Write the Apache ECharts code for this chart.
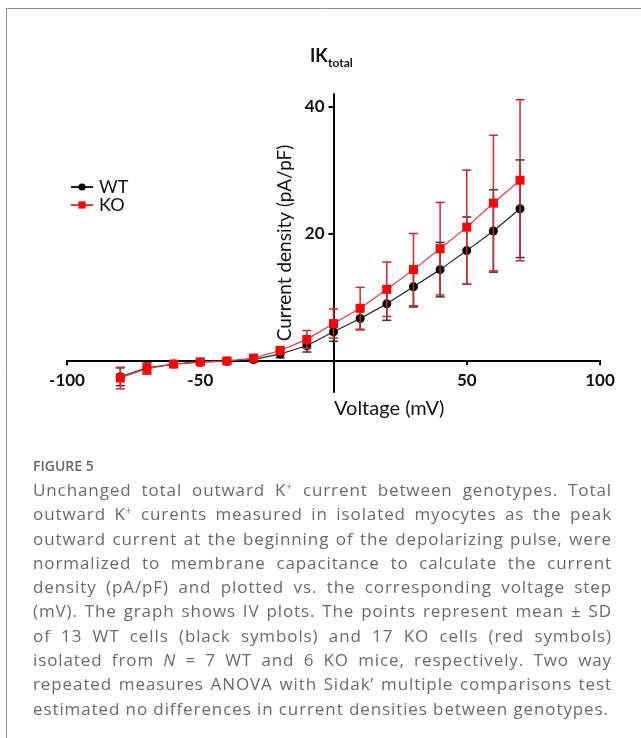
<!DOCTYPE html>
<html>
<head>
<meta charset="utf-8">
<script src="https://cdn.jsdelivr.net/npm/echarts@6/dist/echarts.min.js"></script>
<style>
  html, body { margin: 0; padding: 0; background: #fff; }
  #wrap { position: relative; width: 641px; height: 738px; overflow: hidden; }
  #chart { position: absolute; left: 0; top: 0; width: 641px; height: 738px; }
  #caption {
    position: absolute; left: 33px; top: 454px; width: 579px;
    font-family: "Open Sans", sans-serif; color: #6a6a6a; font-size: 17px; letter-spacing: 0.9px;
  }
  #caption .fig { font-size: 14px; font-weight: 600; color: #666; height: 24px; line-height: 24px; letter-spacing: 0; }
  #caption .ln { height: 24.3px; line-height: 24.3px; white-space: nowrap; text-align: justify; text-align-last: justify; }
  #caption .ln.last { text-align: left; text-align-last: left; }
  #caption sup { font-size: 10px; line-height: 0; vertical-align: 6px; }
</style>
</head>
<body>
<div id="wrap">
  <div id="chart"></div>
  <div id="caption">
    <div class="fig">FIGURE 5</div>
    <div class="ln">Unchanged total outward K<sup>+</sup> current between genotypes. Total</div>
    <div class="ln">outward K<sup>+</sup> curents measured in isolated myocytes as the peak</div>
    <div class="ln">outward current at the beginning of the depolarizing pulse, were</div>
    <div class="ln">normalized to membrane capacitance to calculate the current</div>
    <div class="ln">density (pA/pF) and plotted vs. the corresponding voltage step</div>
    <div class="ln">(mV). The graph shows IV plots. The points represent mean ± SD</div>
    <div class="ln">of 13 WT cells (black symbols) and 17 KO cells (red symbols)</div>
    <div class="ln">isolated from <i>N</i> = 7 WT and 6 KO mice, respectively. Two way</div>
    <div class="ln">repeated measures ANOVA with Sidak’ multiple comparisons test</div>
    <div class="ln last">estimated no differences in current densities between genotypes.</div>
  </div>
</div>
<script>
// voltage steps (mV)
const voltage = [-80, -70, -60, -50, -40, -30, -20, -10, 0, 10, 20, 30, 40, 50, 60, 70];
// mean current density (pA/pF) and SD
const wtMean = [-2.6, -1.2, -0.6, -0.3, -0.15, 0.1, 1.0, 2.3, 4.5, 6.6, 8.9, 11.6, 14.3, 17.3, 20.4, 23.9];
const wtSD   = [1.4, 0.8, 0.4, 0.3, 0.3, 0.3, 0.6, 1.0, 1.5, 1.8, 2.6, 3.2, 4.3, 5.3, 6.5, 7.7];
const koMean = [-2.8, -1.3, -0.6, -0.25, -0.1, 0.35, 1.55, 3.3, 5.8, 8.2, 11.2, 14.3, 17.6, 21.0, 24.8, 28.4];
const koSD   = [1.7, 0.9, 0.5, 0.3, 0.3, 0.4, 0.6, 1.4, 2.3, 3.3, 4.3, 5.7, 7.3, 9.0, 10.7, 12.7];
const xTicks = [-100, -50, 50, 100];
const yTicks = [20, 40];
const xMin = -100, xMax = 100, yMin = -5, yMax = 42;

const W = 641, H = 738;
const grid = { left: 67, right: 41, top: 94, bottom: 346 };
// axes cross at (0, 0): shift each axis from the grid edge to the zero line
const plotW = W - grid.left - grid.right;
const plotH = H - grid.top - grid.bottom;
const xAxisOffset = -plotH * (0 - yMin) / (yMax - yMin);
const yAxisOffset = -plotW * (0 - xMin) / (xMax - xMin);

const chart = echarts.init(document.getElementById("chart"));

const pts = (m) => voltage.map((v, i) => [v, m[i]]);
const bars = (m, sd) => voltage.map((v, i) => [v, m[i] - sd[i], m[i] + sd[i]]);

// error bar with caps
function errorBar(color) {
  return function (params, api) {
    const x = api.value(0);
    const lo = api.coord([x, api.value(1)]);
    const hi = api.coord([x, api.value(2)]);
    const w = 4.5;
    const style = { stroke: color, lineWidth: 1.5 };
    return {
      type: "group",
      children: [
        { type: "line", shape: { x1: lo[0], y1: lo[1], x2: hi[0], y2: hi[1] }, style },
        { type: "line", shape: { x1: lo[0] - w, y1: lo[1], x2: lo[0] + w, y2: lo[1] }, style },
        { type: "line", shape: { x1: hi[0] - w, y1: hi[1], x2: hi[0] + w, y2: hi[1] }, style },
      ],
    };
  };
}

const labelFont = { fontFamily: "Lato", fontWeight: "bold", fontSize: 17, color: "#111" };

chart.setOption({
  animation: false,
  backgroundColor: "#fff",
  grid: grid,
  legend: {
    orient: "vertical",
    left: 65,
    top: 173,
    itemWidth: 22,
    itemHeight: 9,
    itemGap: 0,
    data: ["WT", "KO"],
    textStyle: { fontFamily: "Lato", fontSize: 18, color: "#111", padding: [0, 0, 0, 1] },
  },
  xAxis: {
    type: "value",
    min: xMin,
    max: xMax,
    offset: xAxisOffset,
    axisLine: { onZero: false, lineStyle: { color: "#000", width: 2 } },
    axisTick: { customValues: xTicks, length: 5, lineStyle: { color: "#000", width: 2 } },
    axisLabel: { customValues: xTicks, margin: 12, ...labelFont },
    splitLine: { show: false },
  },
  yAxis: {
    type: "value",
    min: yMin,
    max: yMax,
    offset: yAxisOffset,
    name: "Current density (pA/pF)",
    nameLocation: "middle",
    nameGap: 33,
    nameTextStyle: { fontFamily: "Lato", fontSize: 19, color: "#111" },
    axisLine: { show: true, onZero: false, lineStyle: { color: "#000", width: 2 } },
    axisTick: { customValues: yTicks, length: 5, lineStyle: { color: "#000", width: 2 } },
    axisLabel: { customValues: yTicks, margin: 9, ...labelFont },
    splitLine: { show: false },
  },
  graphic: [
    { type: "line", shape: { x1: 6.5, y1: 8.5, x2: 641, y2: 8.5 }, style: { stroke: "#8c8c8c", lineWidth: 1 } },
    { type: "line", shape: { x1: 6.5, y1: 8.5, x2: 6.5, y2: 738 }, style: { stroke: "#8c8c8c", lineWidth: 1 } },
    { type: "text", left: 310, top: 47, style: { text: "IK", fontFamily: "Lato", fontWeight: "bold", fontSize: 18, fill: "#111" } },
    { type: "text", left: 328, top: 57, style: { text: "total", fontFamily: "Lato", fontWeight: "bold", fontSize: 12, fill: "#111" } },
    { type: "text", left: 334, top: 399, style: { text: "Voltage (mV)", fontFamily: "Lato", fontSize: 20, fill: "#111" } },
  ],
  series: [
    {
      type: "custom",
      name: "WT err",
      renderItem: errorBar("#333"),
      encode: { x: 0, y: [1, 2] },
      data: bars(wtMean, wtSD),
      z: 2,
    },
    {
      type: "line",
      name: "WT",
      data: pts(wtMean),
      symbol: "circle",
      symbolSize: 9,
      itemStyle: { color: "#000" },
      lineStyle: { color: "#222", width: 1.2 },
      z: 3,
    },
    {
      type: "custom",
      name: "KO err",
      renderItem: errorBar("#c8282e"),
      encode: { x: 0, y: [1, 2] },
      data: bars(koMean, koSD),
      z: 4,
    },
    {
      type: "line",
      name: "KO",
      data: pts(koMean),
      symbol: "rect",
      symbolSize: 9,
      itemStyle: { color: "#f00" },
      lineStyle: { color: "#e8383c", width: 1.2 },
      z: 5,
    },
  ],
});
</script>
</body>
</html>
